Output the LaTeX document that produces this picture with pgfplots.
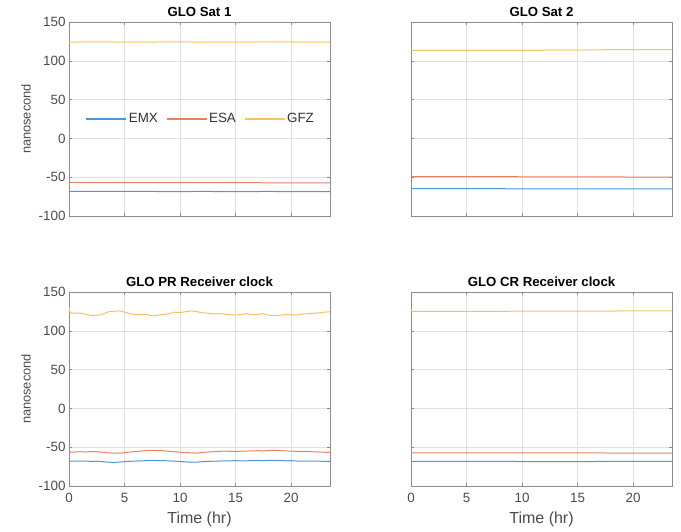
\documentclass[border=0pt]{standalone}
\usepackage{fontspec}
\setmainfont{Liberation Sans}
\usepackage{pgfplots}
\pgfplotsset{compat=1.18}

\definecolor{emx}{RGB}{80,150,215}
\definecolor{esa}{RGB}{230,130,100}
\definecolor{gfz}{RGB}{242,195,95}
\definecolor{gridc}{RGB}{224,224,224}
\definecolor{axc}{RGB}{140,140,140}
\definecolor{tickc}{RGB}{75,75,75}

\pgfplotsset{
  panel/.style={
    width=261pt, height=194pt, scale only axis,
    xmin=0, xmax=23.5, ymin=-100, ymax=150,
    xtick={0,5,...,20}, ytick={-100,-50,...,150},
    grid=major, major grid style={gridc, line width=0.5pt},
    axis line style={axc, line width=0.6pt},
    tick style={axc, line width=0.5pt}, tick align=inside, major tick length=3pt,
    tick label style={font=\fontsize{13.4}{16}\selectfont, text=tickc},
    xticklabel style={yshift=-4pt},
    /pgf/number format/assume math mode=true,
    title style={font=\bfseries\fontsize{13.2}{16}\selectfont, yshift=-4.5pt},
    ylabel style={font=\fontsize{12.8}{15}\selectfont, text=tickc,
      at={(axis description cs:-0.165,0.5)}, anchor=center},
    xlabel style={font=\fontsize{16}{19}\selectfont, text=tickc,
      at={(axis description cs:0.5,-0.172)}, anchor=center},
    every axis plot/.append style={line width=1pt},
  },
}

\begin{document}
\begin{tikzpicture}
\path[use as bounding box] (0,0) rectangle (681pt,531pt);

% ---- GLO Sat 1 ----
\begin{axis}[panel, at={(69pt,315pt)}, anchor=south west,
    title={GLO Sat 1}, ylabel={nanosecond}, xticklabels={},
    legend style={at={(0.505,0.5)}, anchor=center, draw=none, fill=none,
      legend columns=3, font=\fontsize{13.4}{16}\selectfont, text=black!80,
      /tikz/every even column/.append style={column sep=6pt}},
    legend image code/.code={\draw[#1, line width=1.2pt] (0pt,0pt) -- (40pt,0pt);},
]
\addplot[emx] coordinates {(0,-68.3) (3,-68.4) (6,-68.3) (9,-68.5) (12,-68.4) (15,-68.5) (18,-68.4) (21,-68.6) (23.5,-68.6)};
\addlegendentry{EMX}
\addplot[esa] coordinates {(0,-56.8) (3,-56.9) (6,-57.0) (9,-57.0) (12,-57.1) (15,-57.0) (18,-57.2) (21,-57.2) (23.5,-57.3)};
\addlegendentry{ESA}
\addplot[gfz] coordinates {(0,124.2) (3,124.3) (6,124.1) (9,124.3) (12,124.2) (15,124.1) (18,124.3) (21,124.2) (23.5,124.2)};
\addlegendentry{GFZ}
\end{axis}

% ---- GLO Sat 2 ----
\begin{axis}[panel, at={(411pt,315pt)}, anchor=south west,
    title={GLO Sat 2}, xticklabels={}, yticklabels={}]
\addplot[emx] coordinates {(0,-64.6) (2,-64.7) (4,-64.6) (6,-64.8) (9,-64.9) (12,-64.9) (15,-65.0) (18,-65.0) (20,-65.1) (23.5,-65.2)};
\addplot[esa] coordinates {(0,-49.4) (3,-49.3) (6,-49.2) (9,-49.4) (12,-49.5) (15,-49.6) (18,-49.7) (21,-49.8) (23.5,-49.8)};
\addplot[gfz] coordinates {(0,113.3) (3,113.3) (6,113.4) (9,113.5) (12,113.6) (15,113.8) (17,114.2) (19,114.4) (21,114.4) (23.5,114.5)};
\end{axis}

% ---- GLO PR Receiver clock ----
\begin{axis}[panel, at={(69pt,45pt)}, anchor=south west,
    title={GLO PR Receiver clock}, ylabel={nanosecond}, xlabel={Time (hr)}]
\addplot[emx] coordinates {
(0,-68.2) (0.5,-67.8) (1,-68.1) (1.5,-67.9) (2,-68.3) (2.5,-68.0) (3,-68.6) (3.5,-69.3) (4,-69.5) (4.5,-69.2)
(5,-68.6) (5.5,-68.2) (6,-67.9) (6.5,-67.6) (7,-67.3) (7.5,-67.0) (8,-67.4) (8.5,-67.3) (9,-67.7) (9.5,-68.0)
(10,-68.4) (10.5,-68.9) (11,-69.4) (11.5,-69.2) (12,-68.7) (12.5,-68.3) (13,-68.1) (13.5,-67.9) (14,-67.6) (14.5,-67.5)
(15,-67.4) (15.5,-67.7) (16,-67.5) (16.5,-67.2) (17,-67.1) (17.5,-67.4) (18,-67.0) (18.5,-67.2) (19,-67.1) (19.5,-67.5)
(20,-67.4) (20.5,-67.8) (21,-68.0) (21.5,-67.8) (22,-68.1) (22.5,-68.0) (23,-68.3) (23.5,-68.2)};
\addplot[esa] coordinates {
(0,-59.0) (0.1,-56.5) (0.5,-56.2) (1,-55.8) (1.5,-56.1) (2,-55.6) (2.5,-55.9) (3,-56.4) (3.5,-57.3) (4,-57.6) (4.5,-57.8)
(5,-57.0) (5.5,-56.3) (6,-55.4) (6.5,-55.0) (7,-54.3) (7.5,-54.0) (8,-54.4) (8.5,-54.6) (9,-55.3) (9.5,-55.9)
(10,-56.4) (10.5,-56.9) (11,-57.3) (11.5,-57.6) (12,-56.8) (12.5,-56.2) (13,-55.8) (13.5,-55.4) (14,-55.0) (14.5,-55.3)
(15,-55.6) (15.5,-55.2) (16,-55.0) (16.5,-54.7) (17,-54.5) (17.5,-54.9) (18,-54.2) (18.5,-54.0) (19,-54.5) (19.5,-54.8)
(20,-55.1) (20.5,-55.4) (21,-55.6) (21.5,-55.3) (22,-55.9) (22.5,-56.2) (23,-56.5) (23.5,-56.6)};
\addplot[gfz] coordinates {
(0,130.5) (0.1,123.5) (0.5,122.6) (1,122.9) (1.5,121.4) (2,119.6) (2.5,119.9) (3,121.2) (3.5,124.3) (4,125.2) (4.5,125.8)
(5,124.2) (5.5,121.8) (6,121.0) (6.5,120.6) (7,121.2) (7.5,119.2) (8,120.3) (8.5,121.0) (9,122.1) (9.5,124.0)
(10,123.6) (10.5,124.6) (11,125.6) (11.5,124.7) (12,123.2) (12.5,122.7) (13,121.7) (13.5,122.1) (14,121.6) (14.5,120.7)
(15,120.1) (15.5,121.1) (16,122.1) (16.5,120.6) (17,121.1) (17.5,122.0) (18,120.1) (18.5,119.6) (19,120.0) (19.5,121.1)
(20,120.6) (20.5,120.1) (21,121.6) (21.5,122.1) (22,122.6) (22.5,123.0) (23,124.0) (23.5,124.5)};
\end{axis}

% ---- GLO CR Receiver clock ----
\begin{axis}[panel, at={(411pt,45pt)}, anchor=south west,
    title={GLO CR Receiver clock}, xlabel={Time (hr)}, yticklabels={}]
\addplot[emx] coordinates {(0,-68.3) (3,-68.3) (6,-68.4) (9,-68.4) (11,-68.5) (14,-68.5) (17.5,-68.4) (20,-68.3) (23.5,-68.3)};
\addplot[esa] coordinates {(0,-57.4) (3,-57.4) (6,-57.3) (9,-57.4) (12,-57.4) (15,-57.3) (18,-57.5) (21,-57.6) (23.5,-57.6)};
\addplot[gfz] coordinates {(0,127.5) (0.1,125.2) (3,125.1) (6,125.1) (9,125.2) (12,125.3) (15,125.4) (18,125.5) (21,125.6) (23.5,125.6)};
\end{axis}
\end{tikzpicture}
\end{document}
